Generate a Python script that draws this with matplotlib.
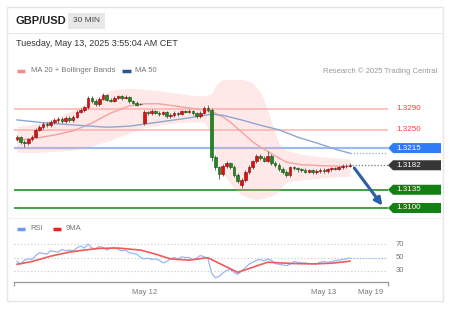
import numpy as np
import matplotlib.pyplot as plt
from matplotlib.patches import Polygon, Rectangle

plt.rcParams['font.family'] = ['Liberation Sans', 'DejaVu Sans']

W, H = 454, 310

# 30 min candles (red = up, green = down), index 0..89
opens = [1.3233, 1.3236, 1.3226, 1.3224, 1.3232, 1.3237, 1.3250, 1.3255, 1.3262, 1.3259,
         1.3265, 1.3268, 1.3271, 1.3267, 1.3272, 1.3268, 1.3275, 1.3285, 1.3288, 1.3293,
         1.3311, 1.3306, 1.3299, 1.3310, 1.3317, 1.3308, 1.3306, 1.3312, 1.3314, 1.3312,
         1.3313, 1.3305, 1.3302, 1.3299, 1.3263, 1.3284, 1.3282, 1.3287, 1.3283, 1.3281,
         1.3284, 1.3276, 1.3278, 1.3283, 1.3280, 1.3286, 1.3285, 1.3287, 1.3282, 1.3276,
         1.3283, 1.3291, 1.3288, 1.3198, 1.3178, 1.3165, 1.3180, 1.3186, 1.3179, 1.3164,
         1.3145, 1.3153, 1.3170, 1.3178, 1.3190, 1.3199, 1.3196, 1.3191, 1.3200, 1.3186,
         1.3183, 1.3175, 1.3170, 1.3163, 1.3178, 1.3176, 1.3174, 1.3173, 1.3170, 1.3172,
         1.3169, 1.3171, 1.3173, 1.3171, 1.3174, 1.3176, 1.3175, 1.3178, 1.3180, 1.3181]
closes = [1.3236, 1.3226, 1.3224, 1.3232, 1.3237, 1.3250, 1.3255, 1.3262, 1.3259, 1.3265,
          1.3268, 1.3271, 1.3267, 1.3272, 1.3268, 1.3275, 1.3285, 1.3288, 1.3293, 1.3311,
          1.3306, 1.3299, 1.3310, 1.3317, 1.3308, 1.3306, 1.3312, 1.3314, 1.3312, 1.3313,
          1.3305, 1.3302, 1.3298, 1.3300, 1.3284, 1.3282, 1.3287, 1.3283, 1.3281, 1.3284,
          1.3276, 1.3278, 1.3283, 1.3280, 1.3286, 1.3285, 1.3287, 1.3282, 1.3276, 1.3283,
          1.3291, 1.3288, 1.3198, 1.3178, 1.3165, 1.3180, 1.3186, 1.3179, 1.3164, 1.3152,
          1.3153, 1.3170, 1.3178, 1.3190, 1.3199, 1.3196, 1.3191, 1.3200, 1.3186, 1.3183,
          1.3175, 1.3170, 1.3163, 1.3178, 1.3176, 1.3174, 1.3173, 1.3170, 1.3172, 1.3169,
          1.3171, 1.3173, 1.3171, 1.3174, 1.3176, 1.3175, 1.3178, 1.3180, 1.3181, 1.3182]
highs = [1.3240, 1.3239, 1.3230, 1.3235, 1.3240, 1.3253, 1.3259, 1.3265, 1.3266, 1.3268,
         1.3272, 1.3275, 1.3274, 1.3276, 1.3276, 1.3278, 1.3288, 1.3292, 1.3296, 1.3315,
         1.3314, 1.3309, 1.3313, 1.3321, 1.3319, 1.3311, 1.3315, 1.3317, 1.3316, 1.3316,
         1.3315, 1.3308, 1.3305, 1.3302, 1.3288, 1.3287, 1.3290, 1.3289, 1.3286, 1.3287,
         1.3286, 1.3282, 1.3286, 1.3285, 1.3289, 1.3289, 1.3290, 1.3289, 1.3284, 1.3286,
         1.3295, 1.3297, 1.3291, 1.3201, 1.3181, 1.3184, 1.3190, 1.3189, 1.3182, 1.3167,
         1.3157, 1.3173, 1.3182, 1.3193, 1.3203, 1.3203, 1.3200, 1.3209, 1.3203, 1.3190,
         1.3186, 1.3178, 1.3173, 1.3181, 1.3181, 1.3179, 1.3177, 1.3176, 1.3175, 1.3175,
         1.3174, 1.3176, 1.3176, 1.3177, 1.3179, 1.3179, 1.3181, 1.3184, 1.3185, 1.3186]
lows = [1.3229, 1.3222, 1.3218, 1.3221, 1.3229, 1.3235, 1.3247, 1.3252, 1.3255, 1.3256,
        1.3262, 1.3264, 1.3264, 1.3264, 1.3265, 1.3265, 1.3272, 1.3282, 1.3285, 1.3290,
        1.3302, 1.3296, 1.3296, 1.3307, 1.3305, 1.3303, 1.3303, 1.3309, 1.3308, 1.3309,
        1.3302, 1.3299, 1.3295, 1.3297, 1.3259, 1.3278, 1.3279, 1.3280, 1.3276, 1.3278,
        1.3273, 1.3273, 1.3275, 1.3277, 1.3278, 1.3282, 1.3282, 1.3279, 1.3273, 1.3273,
        1.3281, 1.3285, 1.3190, 1.3172, 1.3156, 1.3162, 1.3176, 1.3175, 1.3160, 1.3148,
        1.3138, 1.3150, 1.3166, 1.3175, 1.3187, 1.3193, 1.3188, 1.3188, 1.3183, 1.3179,
        1.3171, 1.3166, 1.3159, 1.3160, 1.3172, 1.3170, 1.3169, 1.3167, 1.3167, 1.3166,
        1.3166, 1.3168, 1.3168, 1.3168, 1.3171, 1.3172, 1.3172, 1.3175, 1.3177, 1.3178]

# MA 20 + Bollinger bands, read at some candles
bb_idx = [0, 5, 10, 15, 20, 25, 30, 34, 38, 42, 46, 50, 52, 53, 54, 55, 57, 60, 63, 65,
          66, 67, 68, 69, 70, 71, 72, 76, 82, 89]
bb_upper = [1.3257, 1.3261, 1.3273, 1.3288, 1.3307, 1.3326, 1.3330, 1.3328, 1.3325, 1.3321,
            1.3317, 1.3315, 1.3319, 1.3334, 1.3342, 1.3346, 1.3348, 1.3348, 1.3340, 1.3323,
            1.3307, 1.3288, 1.3265, 1.3244, 1.3225, 1.3213, 1.3211, 1.3203, 1.3198, 1.3194]
bb_mid = [1.3230, 1.3234, 1.3240, 1.3248, 1.3263, 1.3282, 1.3296, 1.3300, 1.3300, 1.3296,
          1.3292, 1.3288, 1.3284, 1.3282, 1.3278, 1.3275, 1.3265, 1.3246, 1.3227, 1.3217,
          1.3213, 1.3209, 1.3204, 1.3200, 1.3196, 1.3192, 1.3188, 1.3183, 1.3181, 1.3180]
bb_lower = [1.3207, 1.3206, 1.3209, 1.3211, 1.3219, 1.3230, 1.3244, 1.3254, 1.3259, 1.3263,
            1.3265, 1.3265, 1.3242, 1.3202, 1.3183, 1.3169, 1.3146, 1.3125, 1.3117, 1.3117,
            1.3119, 1.3121, 1.3123, 1.3127, 1.3133, 1.3142, 1.3150, 1.3154, 1.3158, 1.3161]

ma50_idx = [0, 8, 16, 24, 30, 34, 40, 46, 52, 55, 60, 65, 70, 75, 80, 85, 89]
ma50 = [1.3269, 1.3263, 1.3259, 1.3255, 1.3257, 1.3261, 1.3267, 1.3273, 1.3280, 1.3278,
        1.3269, 1.3259, 1.3250, 1.3236, 1.3225, 1.3213, 1.3205]

rsi = [44, 40, 46, 48, 47, 53, 57, 56, 55, 60, 59, 58, 62, 60, 61, 60, 64, 67, 64, 70,
       64, 63, 66, 65, 61, 64, 65, 62, 60, 61, 57, 56, 55, 50, 48, 49, 47, 48, 46, 42,
       44, 48, 50, 48, 51, 50, 50, 47, 49, 53, 51, 49, 27, 20, 22, 27, 31, 32, 28, 25,
       30, 35, 40, 43, 46, 47, 45, 48, 46, 41, 40, 39, 38, 40, 44, 43, 42, 42, 41, 41,
       40, 43, 44, 43, 44, 45, 46, 47, 48, 49.5]
rsi_ma_idx = [0, 4, 9, 14, 18, 22, 27, 33, 37, 41, 46, 50, 51, 59, 67, 74, 79, 84, 89]
rsi_ma = [40, 44, 52, 58, 61, 63.5, 64, 61, 55, 48, 46, 49, 49.6, 28, 43, 41, 40.5, 41.5, 44.5]

red_levels = [1.3290, 1.3250]
blue_level = 1.3215
last_price = 1.3182
green_levels = [1.3135, 1.3100]

date_ticks = [34, 82, 94.6]
date_labels = ['May 12', 'May 13', 'May 19']


def rect(x0, y0, x1, y1):
    return [x0 / W, 1 - y1 / H, (x1 - x0) / W, (y1 - y0) / H]


fig = plt.figure(figsize=(W / 100, H / 100), dpi=100)
fig.patch.set_facecolor('white')

bg = fig.add_axes([0, 0, 1, 1])
bg.set_xlim(0, W)
bg.set_ylim(H, 0)
bg.axis('off')
bg.add_patch(Rectangle((7, 7), 436, 294, fill=False, ec='#e6e6e6', lw=1))
bg.plot([7, 443], [33, 33], color='#e8e8e8', lw=0.8)
bg.plot([7, 443], [218, 218], color='#f0f0f0', lw=0.8)

bg.text(15, 21, 'GBP/USD', fontsize=8, fontweight='bold', color='#222222', va='center')
bg.add_patch(Rectangle((68, 12.5), 37, 16, fc='#e8e8e8', ec='none'))
bg.text(86.5, 21, '30 MIN', fontsize=6, color='#444444', va='center', ha='center')
bg.text(16, 43.5, 'Tuesday, May 13, 2025 3:55:04 AM CET', fontsize=6.5, color='#333333', va='center')

bg.plot([17, 25], [71, 71], color='#f48a8a', lw=2.5, solid_capstyle='butt')
bg.text(31, 71, 'MA 20 + Bollinger Bands', fontsize=5.5, color='#777777', va='center')
bg.plot([122, 131], [71, 71], color='#2f5597', lw=2.5, solid_capstyle='butt')
bg.text(135, 71, 'MA 50', fontsize=5.5, color='#777777', va='center')
bg.text(437, 71, 'Research \u00a9 2025 Trading Central', fontsize=5.5, color='#999999',
        va='center', ha='right')

bg.plot([17, 25], [229, 229], color='#6f97ee', lw=2.5, solid_capstyle='butt')
bg.text(30, 229, 'RSI', fontsize=5.5, color='#777777', va='center')
bg.plot([53, 61], [229, 229], color='#ee2222', lw=2.5, solid_capstyle='butt')
bg.text(66, 229, '9MA', fontsize=5.5, color='#777777', va='center')

# main price chart
px_per_unit = 99 / 0.0190
ax = fig.add_axes(rect(14, 80, 388, 215))
ax.set_ylim(1.3100 - 7 / px_per_unit, 1.3290 + 29 / px_per_unit)
ax.set_xlim(-0.8, 99.15)
ax.axis('off')

for lv in red_levels:
    ax.axhline(lv, color='#ffb8b8', lw=1.2, zorder=1)
ax.axhline(blue_level, color='#9dbaf2', lw=1.6, zorder=1)
for lv in green_levels:
    ax.axhline(lv, color='#41a041', lw=1.4, zorder=1)

ax.fill_between(bb_idx, bb_lower, bb_upper, color='#ffa8a8', alpha=0.26, lw=0, zorder=2)
ax.plot(bb_idx, bb_mid, color='#f4a2a2', lw=1, zorder=3)
ax.plot(ma50_idx, ma50, color='#8ea6d2', lw=1, zorder=3)
ax.hlines(ma50[-1], ma50_idx[-1], 99.15, colors='#8ea6d2', linestyles=(0, (1, 1.5)), lw=0.9)
ax.hlines(last_price, 89.6, 99.15, colors='#777777', linestyles=(0, (1, 1.5)), lw=0.9)

x = np.arange(len(closes))
o = np.array(opens)
c = np.array(closes)
up = c >= o
body_col = np.where(up, '#e01010', '#1f8a1f')
edge_col = np.where(up, '#8a0000', '#0d4d0d')
ax.vlines(x, lows, highs, color='#555555', lw=0.6, zorder=4)
ax.bar(x, np.maximum(np.abs(c - o), 0.00012), bottom=np.minimum(o, c), width=0.7,
       color=body_col, edgecolor=edge_col, lw=0.4, zorder=5)

ax.annotate('', xy=(98.1, green_levels[1] + 0.00003), xytext=(89.7, last_price - 0.0001),
            arrowprops=dict(arrowstyle='-|>', color='#2d5ea8', lw=2.2, mutation_scale=11),
            annotation_clip=False, zorder=6)

tr = ax.get_yaxis_transform()
half = 5 / px_per_unit
x_tip, x_body, x_end = 1.0, 1 + 5 / 374, 1 + 53 / 374


def tag(price, color):
    pts = [(x_tip, price), (x_body, price + half), (x_end, price + half),
           (x_end, price - half), (x_body, price - half)]
    ax.add_patch(Polygon(pts, closed=True, fc=color, ec='none', transform=tr, clip_on=False))
    ax.text(1 + 8 / 374, price, '%.4f' % price, transform=tr, color='white',
            fontsize=5.8, va='center', clip_on=False)


for lv in red_levels:
    ax.text(1 + 8 / 374, lv, '%.4f' % lv, transform=tr, color='#ff3b3b', fontsize=5.8,
            va='center', clip_on=False)
tag(blue_level, '#2f7cf6')
tag(last_price, '#363636')
for lv in green_levels:
    tag(lv, '#128012')

# RSI panel
ax2 = fig.add_axes(rect(14, 238, 388, 282))
ax2.set_xlim(-0.8, 99.15)
ax2.set_ylim(30 - 11 / 0.675, 70 + 6 / 0.675)
for s in ['top', 'left', 'right']:
    ax2.spines[s].set_visible(False)
ax2.spines['bottom'].set_color('#999999')
ax2.spines['bottom'].set_linewidth(0.9)
ax2.set_yticks([])
ax2.set_xticks(date_ticks)
ax2.set_xticklabels(date_labels, fontsize=5.5, color='#777777')
ax2.tick_params(axis='x', length=0, pad=5)
for lvl in [30, 50, 70]:
    ax2.axhline(lvl, color='#c8c8c8', lw=0.8, linestyle=(0, (1, 2)))
    ax2.text(1 + 8 / 374, lvl, str(lvl), transform=ax2.get_yaxis_transform(),
             fontsize=5.5, color='#777777', va='center', clip_on=False)
ax2.plot(x, rsi, color='#9bb6f4', lw=0.9)
ax2.hlines(rsi[-1], 89, 99.15, colors='#9bb6f4', linestyles=(0, (1, 1.5)), lw=0.9)
ax2.plot(rsi_ma_idx, rsi_ma, color='#f05a5a', lw=1.2)
ax2.vlines([-0.8, 99.15], 30 - 11 / 0.675 - 4 / 0.675, 30 - 11 / 0.675, color='#999999',
           lw=0.9, clip_on=False)

fig.savefig('out.png', dpi=100)
